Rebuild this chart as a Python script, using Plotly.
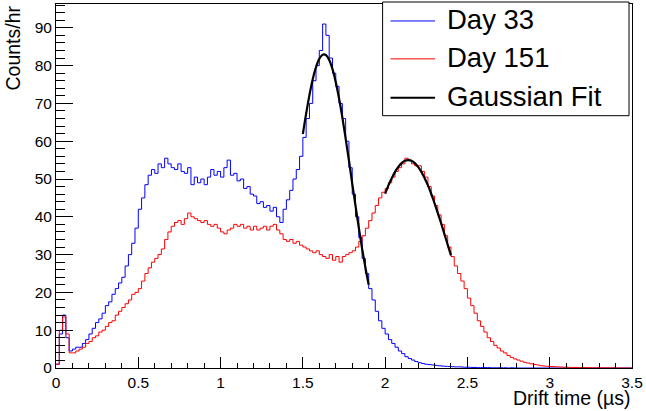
import numpy as np
import plotly.graph_objects as go

# Histogram binning (bin width 0.02 us, starting at 0)
bin_start = 0.0
bin_width = 0.02

# Day 33 counts/hr per bin
day33 = [
    1, 9, 14, 8, 4.5, 5, 5.5, 5.5, 6.5, 7.5,
    9, 10.5, 12, 13, 14.5, 16.5, 17.5, 19.5, 21, 22.5,
    24, 27, 30, 33, 37, 42, 45, 48.5, 51, 52.5,
    51.5, 54, 53, 55.5, 54, 53, 52.5, 54, 52, 51.5,
    53, 48.5, 50.5, 49, 50, 48.5, 50.5, 52.5, 51, 52,
    50.5, 53, 55, 51, 51.5, 49.5, 50, 47.5, 48, 46,
    45.5, 43.5, 44, 42.5, 43, 41.5, 42.5, 40, 38.5, 42,
    44.5, 47, 50, 52.5, 56, 61, 66, 70, 76, 80,
    84, 91, 88, 82, 78, 74.5, 70, 66, 60, 53,
    46, 40, 34.5, 29, 25, 21, 18, 15, 12.5, 10.5,
    9, 7.5, 6.5, 5.5, 4.5, 3.8, 3, 2.5, 2.1, 1.7,
    1.4, 1.2, 1, 0.9, 0.8, 0.7, 0.6, 0.5, 0.45, 0.4,
    0.35, 0.3, 0.3, 0.25, 0.2, 0.2, 0.15, 0.15, 0.1, 0.1,
    0.1, 0.1, 0.05, 0.05, 0.05, 0.05, 0.05, 0, 0.05, 0,
    0, 0, 0, 0, 0, 0, 0, 0, 0, 0,
    0, 0, 0, 0, 0, 0, 0, 0, 0, 0,
    0, 0, 0, 0, 0, 0, 0, 0, 0, 0,
    0, 0, 0, 0, 0,
]

# Day 151 counts/hr per bin
day151 = [
    1, 10, 13.5, 9, 4, 4, 4.5, 5, 5.5, 6.5,
    7, 8, 8.5, 9.5, 10, 11, 12, 12.5, 14, 15,
    16, 17, 18, 19.5, 20, 21, 23, 25, 26.5, 28,
    29, 30, 31.5, 34, 36, 37.5, 38.5, 39, 38, 39.5,
    41, 40, 39.5, 39, 38.5, 39, 38, 37.5, 38, 37,
    36, 35.5, 36.5, 37, 38, 37.5, 38, 37, 37.5, 36.5,
    37.5, 36.5, 37, 37.5, 36.5, 37.5, 38, 36.5, 35.5, 34,
    33.5, 34, 33, 33.5, 32.5, 32, 31.5, 31, 30.5, 31,
    30, 29.5, 29, 30, 28.5, 29.5, 28, 29.5, 30, 30.5,
    31, 32, 33.5, 35, 37, 39, 41, 43, 45, 46.5,
    47.5, 49, 50.5, 52, 53, 54, 55.5, 55, 54, 53.5,
    53.5, 52, 50.5, 48, 45.5, 43, 40.5, 38, 35, 32,
    29.5, 27, 25, 23, 21, 18.5, 16.5, 14.5, 12.5, 11,
    9.5, 8, 7, 6, 5.3, 4.5, 4, 3.3, 2.8, 2.4,
    2.1, 1.8, 1.5, 1.3, 1.1, 0.9, 0.8, 0.6, 0.5, 0.45,
    0.4, 0.35, 0.3, 0.25, 0.2, 0.2, 0.15, 0.15, 0.1, 0.1,
    0.1, 0.1, 0.05, 0.05, 0.05, 0.05, 0.05, 0.05, 0, 0.05,
    0, 0, 0, 0, 0,
]

# Gaussian fit curves (sampled)
fit33_x = [1.50, 1.52, 1.54, 1.56, 1.58, 1.60, 1.62, 1.64, 1.66, 1.68, 1.70,
           1.72, 1.74, 1.76, 1.78, 1.80, 1.82, 1.84, 1.86, 1.88, 1.90]
fit33_y = [61.9, 67.3, 72.2, 76.4, 79.6, 81.8, 82.9, 82.8, 81.5, 79.1, 75.6,
           71.3, 66.3, 60.7, 54.9, 48.8, 42.9, 37.1, 31.6, 26.6, 22.0]
fit151_x = [2.00, 2.02, 2.04, 2.06, 2.08, 2.10, 2.12, 2.14, 2.16, 2.18, 2.20,
            2.22, 2.24, 2.26, 2.28, 2.30, 2.32, 2.34, 2.36, 2.38, 2.40]
fit151_y = [46.1, 48.3, 50.2, 51.9, 53.2, 54.2, 54.8, 55.0, 54.8, 54.2, 53.2,
            51.9, 50.2, 48.3, 46.1, 43.6, 41.0, 38.3, 35.5, 32.6, 29.8]

x_ticks = [0, 0.5, 1, 1.5, 2, 2.5, 3, 3.5]
x_tick_labels = ["0", "0.5", "1", "1.5", "2", "2.5", "3", "3.5"]
y_ticks = [0, 10, 20, 30, 40, 50, 60, 70, 80, 90]
y_tick_labels = [str(v) for v in y_ticks]

legend_names = ["Day 33", "Day 151", "Gaussian Fit"]
legend_colors = ["#0000ff", "#ff0000", "black"]
legend_widths = [1, 1, 2]

W, H = 646, 411
ML, MR, MT, MB = 56, 8, 3, 43
PW, PH = W - ML - MR, H - MT - MB


def px_x(p):
    return (p - ML) / PW


def px_y(p):
    return (H - MB - p) / PH


def step_xy(vals):
    n = len(vals)
    edges = bin_start + bin_width * np.arange(n + 1)
    ys = list(vals) + [vals[-1]]
    return edges, ys


FONT = "Liberation Sans, Arial, Helvetica, sans-serif"

fig = go.Figure()
ex, ey = step_xy(day33)
fig.add_trace(go.Scatter(x=ex, y=ey, mode="lines", line=dict(color="#0000ff", width=1, shape="hv"),
                         name="Day 33"))
ex, ey = step_xy(day151)
fig.add_trace(go.Scatter(x=ex, y=ey, mode="lines", line=dict(color="#ff0000", width=1, shape="hv"),
                         name="Day 151"))
fig.add_trace(go.Scatter(x=fit33_x, y=fit33_y, mode="lines", line=dict(color="black", width=2.2, shape="spline"),
                         name="Gaussian Fit"))
fig.add_trace(go.Scatter(x=fit151_x, y=fit151_y, mode="lines", line=dict(color="black", width=2.2, shape="spline"),
                         name="Gaussian Fit"))

axis_common = dict(showgrid=False, zeroline=False, showline=True, mirror=True,
                   linecolor="black", linewidth=1, ticks="inside", tickcolor="black",
                   tickfont=dict(family=FONT, size=15.5, color="black"))

fig.update_xaxes(range=[0, 3.5], tickvals=x_ticks, ticktext=x_tick_labels, ticklen=11,
                 ticklabeloverflow="allow",
                 minor=dict(dtick=0.1, ticklen=5.5, ticks="inside", tickcolor="black"),
                 **axis_common)
fig.update_yaxes(range=[0, 96.3], tickvals=y_ticks, ticktext=y_tick_labels, ticklen=17,
                 minor=dict(dtick=2, ticklen=9, ticks="inside", tickcolor="black"),
                 **axis_common)

# Legend box (ROOT TLegend style)
shapes = [dict(type="rect", xref="paper", yref="paper", x0=px_x(386), x1=px_x(635),
               y0=px_y(115), y1=px_y(1), fillcolor="white", line=dict(color="black", width=1),
               layer="above")]
annotations = []
leg_rows = [20, 58, 97]
for name, col, lw, ry in zip(legend_names, legend_colors, legend_widths, leg_rows):
    shapes.append(dict(type="line", xref="paper", yref="paper", x0=px_x(394), x1=px_x(439),
                       y0=px_y(ry), y1=px_y(ry), line=dict(color=col, width=lw), layer="above"))
    annotations.append(dict(text=name, xref="paper", yref="paper", x=px_x(449), y=px_y(ry - 1),
                            xanchor="left", yanchor="middle", showarrow=False,
                            font=dict(family=FONT, size=27.5, color="black")))

annotations += [
    dict(text="Counts/hr", xref="paper", yref="paper", x=0, y=1, xanchor="center", yanchor="top",
         textangle=-90, xshift=-44, showarrow=False,
         font=dict(family=FONT, size=19.5, color="black")),
    dict(text="Drift time (\u00b5s)", xref="paper", yref="paper", x=1, y=0, xanchor="right",
         yanchor="middle", yshift=-30, showarrow=False,
         font=dict(family=FONT, size=19.5, color="black")),
]

fig.update_layout(
    width=W, height=H,
    margin=dict(l=ML, r=MR, t=MT, b=MB),
    paper_bgcolor="white", plot_bgcolor="white",
    showlegend=False,
    shapes=shapes,
    annotations=annotations,
)

fig.write_html("out.html", config={"displayModeBar": False},
               post_script="document.body.style.margin='0';document.body.style.padding='0';")
